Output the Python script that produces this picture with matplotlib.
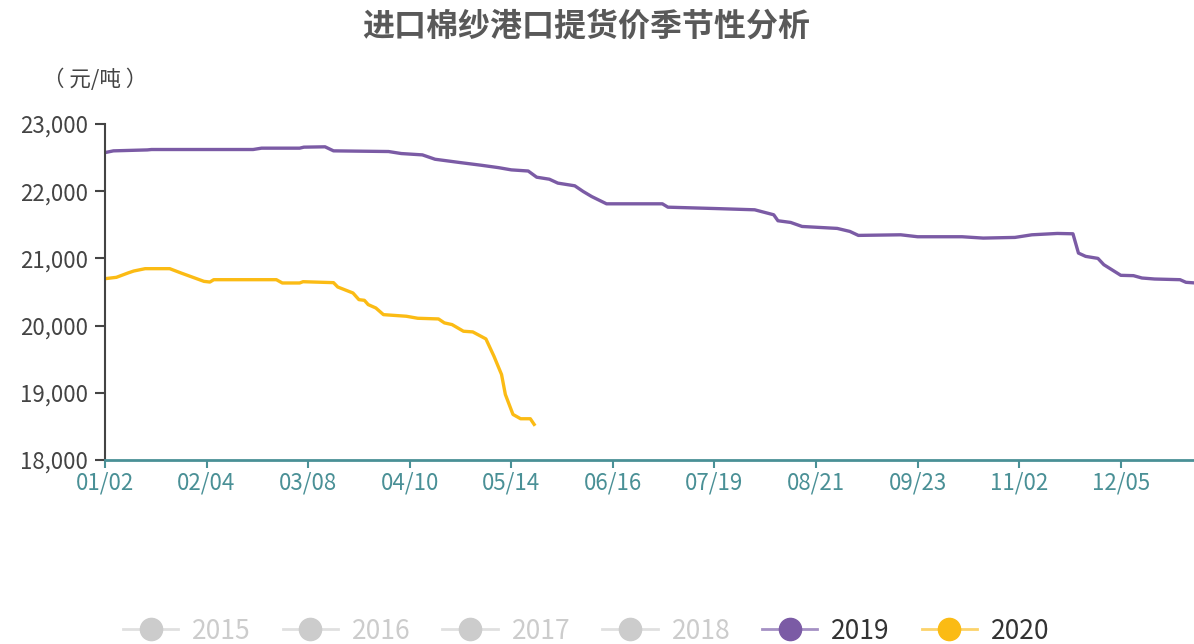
#!/usr/bin/env python3
import matplotlib
matplotlib.use('Agg')
import matplotlib.pyplot as plt
from matplotlib.lines import Line2D
from matplotlib.ticker import FuncFormatter

plt.rcParams['font.family'] = ['Noto Sans CJK SC', 'DejaVu Sans']

# category axis: one category per trading day, label every 24th
tick_labels = ['01/02', '02/04', '03/08', '04/10', '05/14', '06/16',
               '07/19', '08/21', '09/23', '11/02', '12/05']
n_days = 258

# 2019 (category index, price)
idx_2019 = [0, 2, 10, 11, 35, 37, 46, 47, 52, 54, 67, 70, 75, 78, 84, 89, 93,
            96, 100, 102, 105, 107, 111, 113, 115, 118.5, 131.7, 133, 144,
            153.5, 158, 159, 162, 164.7, 173, 176, 178, 188, 192, 202.5, 207.5,
            215, 219, 225, 228.7, 230, 231.7, 234.6, 236, 240, 243, 245, 248,
            254, 255.4, 257.7]
val_2019 = [22574, 22600, 22614, 22620, 22620, 22640, 22640, 22655, 22660,
            22600, 22590, 22560, 22540, 22475, 22425, 22385, 22350, 22317,
            22300, 22208, 22178, 22120, 22080, 21995, 21920, 21812, 21812,
            21762, 21742, 21723, 21649, 21560, 21535, 21475, 21446, 21401,
            21342, 21351, 21322, 21322, 21302, 21312, 21351, 21371, 21366,
            21079, 21030, 21000, 20906, 20748, 20743, 20708, 20693, 20683,
            20644, 20634]

# 2020 (category index, price)
idx_2020 = [0, 2.7, 5.4, 6.8, 9.5, 15.3, 18, 23.4, 24.8, 25.7, 40.5, 41.9, 46,
            46.8, 54, 55, 58.6, 60, 61.3, 62.2, 64, 65.8, 71.2, 73.9, 78.8,
            80.2, 82, 84.7, 86.9, 90, 91.9, 93.7, 94.6, 96.4, 98.2, 100.5,
            101.4]
val_2020 = [20698, 20718, 20782, 20812, 20847, 20847, 20782, 20658, 20648,
            20683, 20683, 20634, 20634, 20653, 20639, 20574, 20485, 20386,
            20376, 20312, 20262, 20163, 20139, 20109, 20099, 20040, 20015,
            19916, 19906, 19802, 19545, 19272, 18975, 18678, 18614, 18614,
            18530]

c2019 = '#7B5BA5'
c2020 = '#FBBB14'
teal = '#4A9096'

fig = plt.figure(figsize=(11.94, 6.44), dpi=100)
ax = fig.add_axes([0.0879, 0.2857, 0.9121, 0.5218])

ax.plot(idx_2019, val_2019, color=c2019, linewidth=2.4, solid_joinstyle='round')
ax.plot(idx_2020, val_2020, color=c2020, linewidth=2.4, solid_joinstyle='round')

ax.set_xlim(0, n_days - 0.7)
ax.set_ylim(18000, 23000)
ax.set_yticks([18000, 19000, 20000, 21000, 22000, 23000])
ax.yaxis.set_major_formatter(FuncFormatter(lambda v, p: '{:,.0f}'.format(v)))
ax.set_xticks(range(0, 24 * len(tick_labels), 24))
ax.set_xticklabels(tick_labels)

for s in ['top', 'right']:
    ax.spines[s].set_visible(False)
ax.spines['left'].set_color('#444444')
ax.spines['left'].set_linewidth(1.5)
ax.spines['bottom'].set_color(teal)
ax.spines['bottom'].set_linewidth(2)

ax.tick_params(axis='y', colors='#444444', labelsize=16, length=7, width=1.5, pad=5)
ax.tick_params(axis='x', colors=teal, labelsize=16, length=6, width=1.5, pad=2)

fig.text(0.491, 0.958, '进口棉纱港口提货价季节性分析', ha='center', va='center',
         fontsize=23, fontweight='bold', color='#595959')
fig.text(0.036, 0.876, '（ 元/吨 ）', ha='left', va='center', fontsize=15.5, color='#444444')

# legend: greyed-out years plus the two shown
grey_line = '#E0E0E0'
grey_mark = '#CCCCCC'
handles = []
for yr in ['2015', '2016', '2017', '2018']:
    handles.append(Line2D([], [], color=grey_line, linewidth=2, marker='o',
                          markersize=16, markerfacecolor=grey_mark,
                          markeredgecolor=grey_mark, label=yr))
handles.append(Line2D([], [], color='#A591C4', linewidth=2, marker='o', markersize=16,
                      markerfacecolor=c2019, markeredgecolor=c2019, label='2019'))
handles.append(Line2D([], [], color='#FCD36A', linewidth=2, marker='o', markersize=16,
                      markerfacecolor=c2020, markeredgecolor=c2020, label='2020'))
leg = fig.legend(handles=handles, loc='center', bbox_to_anchor=(0.491, 0.02),
                 ncol=6, frameon=False, fontsize=19, handlelength=2.1,
                 handletextpad=0.53, columnspacing=1.2, borderpad=0)
for i, t in enumerate(leg.get_texts()):
    t.set_color('#CCCCCC' if i < 4 else '#333333')

fig.savefig('out.png', dpi=100)
